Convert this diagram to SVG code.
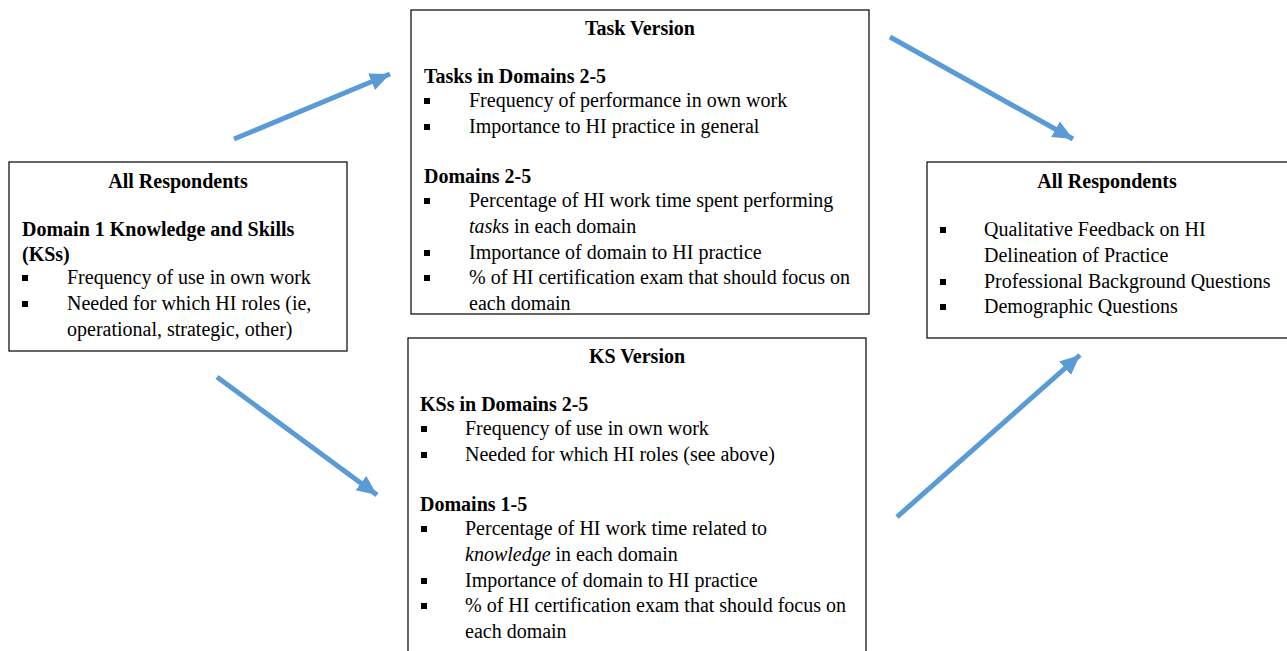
<svg xmlns="http://www.w3.org/2000/svg" width="1287" height="651" viewBox="0 0 1287 651">
<style>
.box{fill:#fff;stroke:#000;stroke-width:1.2}
text{font-family:"Liberation Serif","Times New Roman",serif;font-size:20px;fill:#000}
.b{font-weight:bold}
.c{text-anchor:middle}
.bl{fill:#000}
.arr{stroke:#5B9BD5;stroke-width:5;fill:none}
</style>
<defs>
<marker id="ah" markerUnits="userSpaceOnUse" markerWidth="22" markerHeight="20" refX="20" refY="9" orient="auto">
<path d="M0,0 L20,9 L0,18 Z" fill="#5B9BD5"/>
</marker>
</defs>
<g id="connectors">
<line class="arr" x1="234" y1="139" x2="390" y2="74" marker-end="url(#ah)"/>
<line class="arr" x1="890" y1="37" x2="1073" y2="139" marker-end="url(#ah)"/>
<line class="arr" x1="217" y1="377" x2="377" y2="495" marker-end="url(#ah)"/>
<line class="arr" x1="897" y1="517" x2="1080" y2="355" marker-end="url(#ah)"/>
</g>
<g id="left">
<rect class="box" x="9" y="162" width="338" height="189"/>
<text class="b c" x="178" y="188">All Respondents</text>
<text class="b" x="22" y="236">Domain 1 Knowledge and Skills</text>
<text class="b" x="22" y="261">(KSs)</text>
<rect class="bl" x="22" y="275" width="6" height="6"/>
<text x="67" y="284">Frequency of use in own work</text>
<rect class="bl" x="22" y="301" width="6" height="6"/>
<text x="67" y="310">Needed for which HI roles (ie,</text>
<text x="67" y="336">operational, strategic, other)</text>
</g>
<g id="task">
<rect class="box" x="411" y="10" width="458" height="304"/>
<text class="b c" x="640" y="35">Task Version</text>
<text class="b" x="424" y="83">Tasks in Domains 2-5</text>
<rect class="bl" x="424" y="98" width="6" height="6"/>
<text x="469" y="107">Frequency of performance in own work</text>
<rect class="bl" x="424" y="124" width="6" height="6"/>
<text x="469" y="133">Importance to HI practice in general</text>
<text class="b" x="424" y="183">Domains 2-5</text>
<rect class="bl" x="424" y="198" width="6" height="6"/>
<text x="469" y="207">Percentage of HI work time spent performing</text>
<text x="469" y="233"><tspan font-style="italic">task</tspan>s in each domain</text>
<rect class="bl" x="424" y="250" width="6" height="6"/>
<text x="469" y="259">Importance of domain to HI practice</text>
<rect class="bl" x="424" y="275" width="6" height="6"/>
<text x="469" y="284">% of HI certification exam that should focus on</text>
<text x="469" y="310">each domain</text>
</g>
<g id="ks">
<rect class="box" x="408" y="338" width="458" height="330"/>
<text class="b c" x="637" y="363">KS Version</text>
<text class="b" x="420" y="411">KSs in Domains 2-5</text>
<rect class="bl" x="421" y="426" width="6" height="6"/>
<text x="465" y="435">Frequency of use in own work</text>
<rect class="bl" x="421" y="452" width="6" height="6"/>
<text x="465" y="461">Needed for which HI roles (see above)</text>
<text class="b" x="420" y="511">Domains 1-5</text>
<rect class="bl" x="421" y="526" width="6" height="6"/>
<text x="465" y="535">Percentage of HI work time related to</text>
<text x="465" y="561"><tspan font-style="italic">knowledge</tspan> in each domain</text>
<rect class="bl" x="421" y="578" width="6" height="6"/>
<text x="465" y="587">Importance of domain to HI practice</text>
<rect class="bl" x="421" y="603" width="6" height="6"/>
<text x="465" y="612">% of HI certification exam that should focus on</text>
<text x="465" y="638">each domain</text>
</g>
<g id="right">
<rect class="box" x="927" y="162" width="380" height="176"/>
<text class="b c" x="1107" y="188">All Respondents</text>
<rect class="bl" x="940" y="227" width="6" height="6"/>
<text x="984" y="236">Qualitative Feedback on HI</text>
<text x="984" y="262">Delineation of Practice</text>
<rect class="bl" x="940" y="279" width="6" height="6"/>
<text x="984" y="288">Professional Background Questions</text>
<rect class="bl" x="940" y="304" width="6" height="6"/>
<text x="984" y="313">Demographic Questions</text>
</g>
</svg>
